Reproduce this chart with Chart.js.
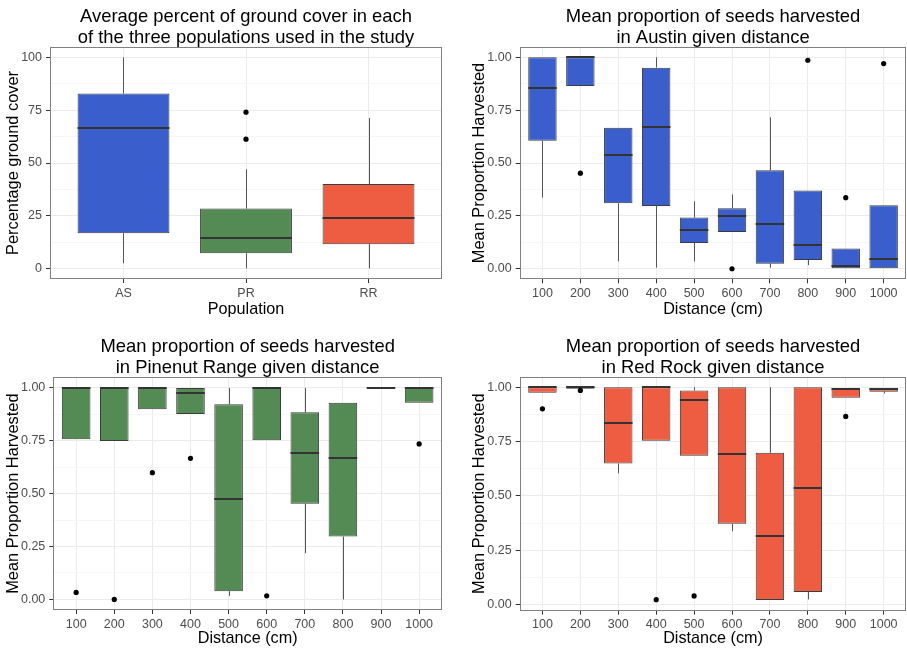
<!DOCTYPE html>
<html>
<head>
<meta charset="utf-8">
<script src="https://cdn.jsdelivr.net/npm/chart.js@4.4.0/dist/chart.umd.min.js"></script>
<style>
  html, body { margin: 0; padding: 0; background: #fff; overflow: hidden; }
  #wrap { position: relative; width: 907px; height: 648px; overflow: hidden; background: #fff; }
  canvas { position: absolute; display: block; }
</style>
</head>
<body>
<div id="wrap">
  <canvas id="cover" width="453" height="324" style="left:0;top:0"></canvas>
  <canvas id="austin" width="456" height="324" style="left:453px;top:0"></canvas>
  <canvas id="pinenut" width="453" height="324" style="left:0;top:324px"></canvas>
  <canvas id="redrock" width="456" height="324" style="left:453px;top:324px"></canvas>
</div>
<script>
// ---- ground cover per population ----
const populations = ['AS', 'PR', 'RR'];
const coverLow = [2.5, 0, 0];
const coverQ1 = [16.7, 7.2, 11.5];
const coverMedian = [66.8, 14.3, 23.8];
const coverQ3 = [83, 28.4, 40];
const coverHigh = [100, 47, 71.3];
const coverOutliers = [[], [61.3, 74.1], []];
const coverTicks = [0, 25, 50, 75, 100];
const coverTickLabels = ['0', '25', '50', '75', '100'];

// ---- proportion harvested by distance ----
const distances = ['100', '200', '300', '400', '500', '600', '700', '800', '900', '1000'];
const propTicks = [0, 0.25, 0.5, 0.75, 1];
const propTickLabels = ['0.00', '0.25', '0.50', '0.75', '1.00'];

const austinLow = [0.336, 0.864, 0.035, 0.005, 0.035, 0.174, 0.005, 0.017, 0, 0];
const austinQ1 = [0.605, 0.864, 0.31, 0.297, 0.122, 0.174, 0.024, 0.041, 0, 0];
const austinMedian = [0.855, 1.0, 0.536, 0.668, 0.183, 0.251, 0.212, 0.112, 0.011, 0.044];
const austinQ3 = [1.0, 1.0, 0.667, 0.951, 0.242, 0.286, 0.466, 0.37, 0.096, 0.30];
const austinHigh = [1.0, 1.0, 0.667, 1.0, 0.319, 0.351, 0.716, 0.37, 0.096, 0.30];
const austinOutliers = [[], [0.452], [], [], [], [0], [], [0.986], [0.336], [0.97]];

const pinenutLow = [0.757, 0.749, 0.899, 0.877, 0.017, 0.752, 0.218, 0, 1, 0.93];
const pinenutQ1 = [0.757, 0.749, 0.899, 0.877, 0.039, 0.752, 0.452, 0.297, 1, 0.93];
const pinenutMedian = [1, 1, 1, 0.976, 0.476, 1, 0.69, 0.667, 1, 1];
const pinenutQ3 = [1, 1, 1, 1, 0.923, 1, 0.885, 0.93, 1, 1];
const pinenutHigh = [1, 1, 1, 1, 1, 1, 1, 0.93, 1, 1];
const pinenutOutliers = [[0.033], [0], [0.599], [0.667], [], [0.017], [], [], [], [0.735]];

const redLow = [0.975, 0.994, 0.604, 0.754, 0.685, 0.337, 0.02, 0.023, 0.952, 0.972];
const redQ1 = [0.975, 0.994, 0.649, 0.754, 0.685, 0.371, 0.02, 0.057, 0.952, 0.98];
const redMedian = [1, 1, 0.835, 1, 0.941, 0.694, 0.314, 0.538, 0.994, 0.994];
const redQ3 = [1, 1, 1, 1, 0.986, 1, 0.699, 1, 0.995, 0.997];
const redHigh = [1, 1, 1, 1, 1, 1, 1, 1, 0.995, 0.997];
const redOutliers = [[0.901], [0.986], [], [0.022], [0.039], [], [], [], [0.866], []];

const BLUE = '#3A5FCD', GREEN = '#548B54', RED = '#EE5C42';
const populationColors = [BLUE, GREEN, RED];

Chart.defaults.font.family = "'Liberation Sans', Arial, Helvetica, sans-serif";
Chart.defaults.animation = false;

// whiskers under the boxes, medians over them, frame around the panel
const boxPlotParts = {
  id: 'boxPlotParts',
  beforeDatasetsDraw(chart, args, s) {
    const xs = chart.scales.x, ys = chart.scales.y, ctx = chart.ctx;
    ctx.save();
    ctx.strokeStyle = '#555';
    ctx.lineWidth = 1;
    s.q1.forEach((q1, i) => {
      const x = Math.round(xs.getPixelForValue(i + 1)) + 0.5;
      ctx.beginPath();
      ctx.moveTo(x, ys.getPixelForValue(s.q3[i]));
      ctx.lineTo(x, ys.getPixelForValue(s.high[i]));
      ctx.moveTo(x, ys.getPixelForValue(q1));
      ctx.lineTo(x, ys.getPixelForValue(s.low[i]));
      ctx.stroke();
    });
    ctx.restore();
  },
  afterDatasetDraw(chart, args, s) {
    if (args.meta.type !== 'bar') return;
    const ys = chart.scales.y, ctx = chart.ctx;
    ctx.save();
    ctx.strokeStyle = '#333';
    ctx.lineWidth = 2;
    args.meta.data.forEach((el, i) => {
      const y = Math.round(ys.getPixelForValue(s.median[i]));
      ctx.beginPath();
      ctx.moveTo(el.x - el.width / 2, y);
      ctx.lineTo(el.x + el.width / 2, y);
      ctx.stroke();
    });
    ctx.restore();
  },
  afterDraw(chart) {
    const a = chart.chartArea, ctx = chart.ctx;
    ctx.save();
    ctx.strokeStyle = '#808080';
    ctx.lineWidth = 1;
    const l = Math.round(a.left) + 0.5, t = Math.round(a.top) + 0.5;
    const r = Math.round(a.right) - 0.5, b = Math.round(a.bottom) - 0.5;
    ctx.strokeRect(l, t, r - l, b - t);
    ctx.restore();
  }
};

function makeBoxChart(id, cfg) {
  const canvas = document.getElementById(id);
  const W = canvas.width, H = canvas.height;
  const A = cfg.area;
  const majors = cfg.ticks;
  const minors = majors.slice(1).map((v, i) => (v + majors[i]) / 2);
  const isMajor = v => majors.some(m => Math.abs(m - v) < 1e-9);
  const labelFor = v => cfg.tickLabels[majors.findIndex(m => Math.abs(m - v) < 1e-9)];

  const boxes = cfg.q1.map((q, i) => ({ x: i + 1, y: [q, cfg.q3[i]] }));
  const points = [];
  cfg.outliers.forEach((list, i) => list.forEach(v => points.push({ x: i + 1, y: v })));

  const titleLH = 21, titleSize = 18.4;
  const titlePadTop = cfg.titleY - titleLH / 2;
  const titlePadBottom = A.top - titlePadTop - 2 * titleLH;

  return new Chart(canvas, {
    type: 'bar',
    data: {
      datasets: [
        { type: 'scatter', data: points, pointRadius: 2.6, pointHoverRadius: 2.6,
          pointBackgroundColor: '#000', pointBorderWidth: 0 },
        { type: 'bar', data: boxes, backgroundColor: cfg.color, borderColor: '#3c3c3c',
          borderWidth: 1, borderSkipped: false, barPercentage: 0.75, categoryPercentage: 1 }
      ]
    },
    options: {
      responsive: false,
      devicePixelRatio: 1,
      layout: { padding: { left: 0, top: 0, right: W - A.right, bottom: 0 } },
      plugins: {
        legend: { display: false },
        tooltip: { enabled: false },
        boxPlotParts: { low: cfg.low, q1: cfg.q1, median: cfg.median, q3: cfg.q3, high: cfg.high },
        title: {
          display: true, text: cfg.title, color: '#000', fullSize: false,
          font: { size: titleSize, weight: 'normal', lineHeight: titleLH / titleSize },
          padding: { top: titlePadTop, bottom: titlePadBottom }
        }
      },
      scales: {
        x: {
          type: 'linear', min: 0.4, max: cfg.labels.length + 0.6, offset: false,
          afterBuildTicks: sc => { sc.ticks = cfg.labels.map((_, i) => ({ value: i + 1 })); },
          afterFit: sc => { sc.height = H - A.bottom; },
          ticks: { autoSkip: false, maxRotation: 0, minRotation: 0, padding: 4,
            color: '#4d4d4d', font: { size: 12.5, lineHeight: 1 },
            callback: v => cfg.labels[Math.round(v) - 1] },
          grid: { offset: false, color: '#ebebeb', tickColor: '#333', tickLength: 4, lineWidth: 1 },
          border: { display: false },
          title: { display: true, text: cfg.xTitle, color: '#000',
            font: { size: 16.2, lineHeight: 1 }, padding: { top: 0, bottom: cfg.xTitlePad } }
        },
        y: {
          type: 'linear', min: cfg.yMin, max: cfg.yMax,
          afterBuildTicks: sc => { sc.ticks = majors.concat(minors).sort((a, b) => a - b).map(v => ({ value: v })); },
          afterFit: sc => { sc.width = A.left; },
          ticks: { padding: 4, color: '#4d4d4d', font: { size: 12.5, lineHeight: 1 },
            callback: v => isMajor(v) ? labelFor(v) : '' },
          grid: {
            color: c => (c.tick && !isMajor(c.tick.value)) ? '#f6f6f6' : '#ebebeb',
            tickColor: c => (c.tick && !isMajor(c.tick.value)) ? 'rgba(0,0,0,0)' : '#333',
            tickLength: 4, lineWidth: 1
          },
          border: { display: false },
          title: { display: true, text: cfg.yTitle, color: '#000',
            font: { size: 16.4, lineHeight: 1 }, padding: { top: cfg.yTitleX - 8.2, bottom: 0 } }
        }
      }
    },
    plugins: [boxPlotParts]
  });
}

makeBoxChart('cover', {
  title: ['Average percent of ground cover in each', 'of the three populations used in the study'],
  xTitle: 'Population', yTitle: 'Percentage ground cover',
  labels: populations, color: populationColors,
  low: coverLow, q1: coverQ1, median: coverMedian, q3: coverQ3, high: coverHigh, outliers: coverOutliers,
  ticks: coverTicks, tickLabels: coverTickLabels, yMin: -5, yMax: 105,
  area: { left: 50, right: 442, top: 47, bottom: 279 },
  titleY: 16.7, xTitlePad: 6, yTitleX: 13
});

makeBoxChart('austin', {
  title: ['Mean proportion of seeds harvested', 'in Austin given distance'],
  xTitle: 'Distance (cm)', yTitle: 'Mean Proportion Harvested',
  labels: distances, color: BLUE,
  low: austinLow, q1: austinQ1, median: austinMedian, q3: austinQ3, high: austinHigh, outliers: austinOutliers,
  ticks: propTicks, tickLabels: propTickLabels, yMin: -0.05, yMax: 1.05,
  area: { left: 66.7, right: 454.6, top: 46.7, bottom: 279.3 },
  titleY: 16.7, xTitlePad: 6, yTitleX: 26
});

makeBoxChart('pinenut', {
  title: ['Mean proportion of seeds harvested', 'in Pinenut Range given distance'],
  xTitle: 'Distance (cm)', yTitle: 'Mean Proportion Harvested',
  labels: distances, color: GREEN,
  low: pinenutLow, q1: pinenutQ1, median: pinenutMedian, q3: pinenutQ3, high: pinenutHigh, outliers: pinenutOutliers,
  ticks: propTicks, tickLabels: propTickLabels, yMin: -0.05, yMax: 1.05,
  area: { left: 53.3, right: 442, top: 53.3, bottom: 286 },
  titleY: 23.3, xTitlePad: 1, yTitleX: 13.3
});

makeBoxChart('redrock', {
  title: ['Mean proportion of seeds harvested', 'in Red Rock given distance'],
  xTitle: 'Distance (cm)', yTitle: 'Mean Proportion Harvested',
  labels: distances, color: RED,
  low: redLow, q1: redQ1, median: redMedian, q3: redQ3, high: redHigh, outliers: redOutliers,
  ticks: propTicks, tickLabels: propTickLabels, yMin: -0.029, yMax: 1.049,
  area: { left: 66.7, right: 454.6, top: 52.7, bottom: 286.7 },
  titleY: 23.3, xTitlePad: 1, yTitleX: 26
});
</script>
</body>
</html>
